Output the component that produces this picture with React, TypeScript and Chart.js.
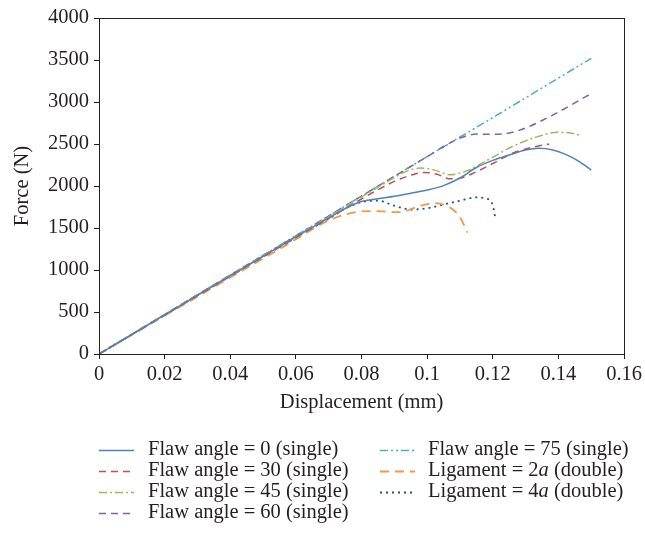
import { useEffect, useRef } from "react";
import { Chart, registerables } from "chart.js";

Chart.register(...registerables);

// ---------- data ----------
const seriesLabels = [
  "Flaw angle = 0 (single)",
  "Flaw angle = 30 (single)",
  "Flaw angle = 45 (single)",
  "Flaw angle = 60 (single)",
  "Flaw angle = 75 (single)",
  "Ligament = 2a (double)",
  "Ligament = 4a (double)",
];

const flaw0X = [0, 0.02, 0.04, 0.06, 0.07, 0.076, 0.08, 0.085, 0.09, 0.095, 0.1, 0.105, 0.11, 0.115, 0.12, 0.125, 0.13, 0.134, 0.138, 0.142, 0.146, 0.15];
const flaw0Y = [0, 465, 930, 1395, 1620, 1750, 1815, 1848, 1878, 1915, 1952, 2005, 2095, 2220, 2305, 2370, 2428, 2450, 2432, 2380, 2300, 2190];

const flaw30X = [0, 0.02, 0.04, 0.06, 0.07, 0.08, 0.085, 0.09, 0.095, 0.099, 0.103, 0.107, 0.11, 0.115, 0.12, 0.126, 0.132, 0.1372];
const flaw30Y = [0, 462, 925, 1385, 1615, 1845, 1955, 2055, 2128, 2162, 2140, 2085, 2092, 2170, 2268, 2390, 2460, 2500];

const flaw45X = [0, 0.02, 0.04, 0.06, 0.07, 0.08, 0.085, 0.09, 0.094, 0.098, 0.102, 0.107, 0.112, 0.118, 0.126, 0.133, 0.14, 0.144, 0.147];
const flaw45Y = [0, 468, 935, 1400, 1635, 1870, 1985, 2100, 2180, 2214, 2192, 2134, 2180, 2300, 2470, 2580, 2640, 2628, 2600];

const flaw60X = [0, 0.02, 0.04, 0.06, 0.08, 0.09, 0.1, 0.105, 0.11, 0.115, 0.12, 0.125, 0.13, 0.135, 0.14, 0.145, 0.15];
const flaw60Y = [0, 470, 940, 1405, 1880, 2115, 2350, 2470, 2570, 2618, 2615, 2630, 2690, 2780, 2880, 2990, 3100];

const flaw75X = [0, 0.02, 0.04, 0.06, 0.08, 0.1, 0.12, 0.14, 0.15];
const flaw75Y = [0, 470, 940, 1410, 1880, 2350, 2815, 3285, 3520];

const lig2aX = [0, 0.02, 0.04, 0.06, 0.065, 0.07, 0.075, 0.08, 0.085, 0.09, 0.093, 0.096, 0.1, 0.102, 0.105, 0.108, 0.11, 0.1123];
const lig2aY = [0, 455, 910, 1365, 1485, 1590, 1660, 1697, 1700, 1688, 1695, 1740, 1785, 1797, 1780, 1715, 1630, 1446];

const lig4aX = [0, 0.02, 0.04, 0.06, 0.07, 0.075, 0.08, 0.085, 0.09, 0.095, 0.1, 0.105, 0.11, 0.115, 0.118, 0.12, 0.1208];
const lig4aY = [0, 465, 930, 1390, 1610, 1730, 1810, 1825, 1765, 1720, 1735, 1780, 1825, 1864, 1850, 1770, 1610];

const xTicks = [0, 0.02, 0.04, 0.06, 0.08, 0.1, 0.12, 0.14, 0.16];
const yTicks = [0, 500, 1000, 1500, 2000, 2500, 3000, 3500, 4000];

// ---------- styles ----------
const colors = ["#4F81BD", "#C0504D", "#9BBB59", "#8064A2", "#4BACC6", "#F79646", "#2B4F80"];
const dashes: number[][] = [[], [7, 5], [8, 3, 2, 3], [7, 5], [8, 3, 2, 3, 2, 3], [9, 6], [2, 4]];
const widths = [1.5, 1.5, 1.5, 1.5, 1.5, 1.8, 1.8];

const FONT = "'Liberation Serif', 'Times New Roman', serif";
const FS = 20.5;

function pts(xs: number[], ys: number[]) {
  return xs.map((x, i) => ({ x, y: ys[i] }));
}

const seriesData = [
  pts(flaw0X, flaw0Y),
  pts(flaw30X, flaw30Y),
  pts(flaw45X, flaw45Y),
  pts(flaw60X, flaw60Y),
  pts(flaw75X, flaw75Y),
  pts(lig2aX, lig2aY),
  pts(lig4aX, lig4aY),
];

const framePlugin = {
  id: "frame",
  afterDraw(chart: any) {
    const { ctx, chartArea } = chart;
    ctx.save();
    ctx.strokeStyle = "#231f20";
    ctx.lineWidth = 1;
    ctx.setLineDash([]);
    const l = Math.round(chartArea.left) + 0.5;
    const t = Math.round(chartArea.top) + 0.5;
    const r = Math.round(chartArea.right) + 0.5;
    const b = Math.round(chartArea.bottom) + 0.5;
    ctx.strokeRect(l, t, r - l, b - t);
    ctx.restore();
  },
};

const legendPlugin = {
  id: "customLegend",
  afterDraw(chart: any) {
    const { ctx } = chart;
    const rows = [450, 471, 492, 513];
    const cols = [
      { s: 99, e: 134, t: 148 },
      { s: 380, e: 415, t: 428 },
    ];
    ctx.save();
    ctx.textBaseline = "middle";
    ctx.fillStyle = "#231f20";
    seriesLabels.forEach((label, i) => {
      const col = i < 4 ? cols[0] : cols[1];
      const y = i < 4 ? rows[i] : rows[i - 4];
      ctx.save();
      ctx.strokeStyle = colors[i];
      ctx.lineWidth = widths[i];
      ctx.setLineDash(dashes[i]);
      ctx.beginPath();
      ctx.moveTo(col.s, y + 0.5);
      ctx.lineTo(col.e, y + 0.5);
      ctx.stroke();
      ctx.restore();
      // text, italic "a" in ligament labels
      let x = col.t;
      const m = label.match(/^(Ligament = \d)(a)( \(double\))$/);
      const parts: [string, boolean][] = m
        ? [[m[1], false], [m[2], true], [m[3], false]]
        : [[label, false]];
      parts.forEach(([txt, it]) => {
        ctx.font = `${it ? "italic " : ""}${FS}px ${FONT}`;
        ctx.fillText(txt, x, y);
        x += ctx.measureText(txt).width;
      });
    });
    ctx.restore();
  },
};

export default function App() {
  const ref = useRef<HTMLCanvasElement | null>(null);

  useEffect(() => {
    document.body.style.margin = "0";
    const canvas = ref.current;
    if (!canvas) return;
    const chart = new Chart(canvas, {
      type: "line",
      data: {
        datasets: seriesLabels.map((label, i) => ({
          label,
          data: seriesData[i],
          borderColor: colors[i],
          backgroundColor: colors[i],
          borderWidth: widths[i],
          borderDash: dashes[i],
          pointRadius: 0,
          fill: false,
          cubicInterpolationMode: "monotone" as const,
        })),
      },
      options: {
        responsive: false,
        animation: false,
        devicePixelRatio: 1,
        layout: { padding: { top: 18, right: 20, bottom: 126, left: 0 } },
        plugins: {
          legend: { display: false },
          tooltip: { enabled: false },
        },
        scales: {
          x: {
            type: "linear",
            min: 0,
            max: 0.16,
            afterBuildTicks: (s: any) => {
              s.ticks = xTicks.map((v) => ({ value: v }));
            },
            afterFit: (s: any) => {
              s.height = 66;
            },
            ticks: {
              color: "#231f20",
              font: { family: FONT, size: FS },
              padding: 3,
              maxRotation: 0,
              autoSkip: false,
              callback: (v: any) => String(parseFloat(Number(v).toFixed(2))),
            },
            grid: {
              display: true,
              drawOnChartArea: false,
              drawTicks: true,
              tickLength: 5,
              color: "#231f20",
            },
            border: { display: true, color: "#231f20" },
            title: {
              display: true,
              text: "Displacement (mm)",
              color: "#231f20",
              font: { family: FONT, size: FS },
              padding: { top: 0, bottom: 5 },
            },
          },
          y: {
            type: "linear",
            min: 0,
            max: 4000,
            afterBuildTicks: (s: any) => {
              s.ticks = yTicks.map((v) => ({ value: v }));
            },
            afterFit: (s: any) => {
              s.width = 99;
            },
            ticks: {
              color: "#231f20",
              font: { family: FONT, size: FS },
              padding: 5,
              autoSkip: false,
              callback: (v: any) => String(v),
            },
            grid: {
              display: true,
              drawOnChartArea: false,
              drawTicks: true,
              tickLength: 5,
              color: "#231f20",
            },
            border: { display: true, color: "#231f20" },
            title: {
              display: true,
              text: "Force (N)",
              color: "#231f20",
              font: { family: FONT, size: FS },
              padding: { top: 10, bottom: 10 },
            },
          },
        },
      },
      plugins: [framePlugin, legendPlugin],
    } as any);
    return () => chart.destroy();
  }, []);

  return (
    <div style={{ width: 645, height: 546, background: "#fff" }}>
      <canvas ref={ref} width={645} height={546} style={{ display: "block" }} />
    </div>
  );
}
